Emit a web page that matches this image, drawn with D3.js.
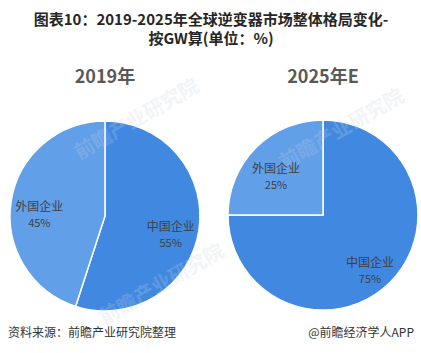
<!DOCTYPE html>
<html>
<head>
<meta charset="utf-8">
<script src="https://cdn.jsdelivr.net/npm/d3@7"></script>
<style>
body { margin: 0; background: #fff; }
text { font-family: "Microsoft YaHei", "Noto Sans CJK SC", sans-serif; }
</style>
</head>
<body>
<div id="chart"></div>
<script>
var width = 421;
var height = 353;

// data
var categories = ['中国企业', '外国企业'];
var years = ['2019年', '2025年E'];
var values2019 = [55, 45];
var values2025 = [75, 25];

var color = d3.scaleOrdinal()
    .domain(categories)
    .range(['#4189e0', '#629fe9']);

var svg = d3.select("#chart")
    .append("svg")
    .attr("width", width)
    .attr("height", height);

// title, two lines
svg.append("text")
    .attr("x", 211).attr("y", 25)
    .attr("text-anchor", "middle")
    .style("font-size", "15px").style("font-weight", "bold").attr("fill", "#262626")
    .text("图表10：2019-2025年全球逆变器市场整体格局变化-");
svg.append("text")
    .attr("x", 211).attr("y", 44)
    .attr("text-anchor", "middle")
    .style("font-size", "15px").style("font-weight", "bold").attr("fill", "#262626")
    .text("按GW算(单位：%)");

var radius = 95;
var pie = d3.pie().sort(null).value(function(d) { return d.value; });
var arc = d3.arc().innerRadius(0).outerRadius(radius);
var labelArc = d3.arc().innerRadius(radius * 0.7).outerRadius(radius * 0.7);

var pies = [
    {year: years[0], values: values2019, cx: 105, cy: 216},
    {year: years[1], values: values2025, cx: 323, cy: 215}
];

pies.forEach(function(p) {
    var data = categories.map(function(c, i) { return {label: c, value: p.values[i]}; });

    svg.append("text")
        .attr("x", p.cx).attr("y", 83)
        .attr("text-anchor", "middle")
        .style("font-size", "18px").style("font-weight", "bold").attr("fill", "#595959")
        .text(p.year);

    var g = svg.append("g")
        .attr("transform", "translate(" + p.cx + "," + p.cy + ")");

    var slices = g.selectAll("g.slice")
        .data(pie(data))
        .enter().append("g")
        .attr("class", "slice");

    slices.append("path")
        .attr("fill", function(d) { return color(d.data.label); })
        .attr("stroke", "#fff")
        .attr("stroke-width", 1.5)
        .attr("d", arc);
});

// faint watermarks, lying over the pies
[[140, 125], [165, 290], [345, 135]].forEach(function(w) {
    svg.append("text")
        .attr("transform", "translate(" + w[0] + "," + w[1] + ") rotate(-30)")
        .attr("text-anchor", "middle")
        .style("font-size", "20px").style("font-weight", "bold")
        .attr("fill", "#c8d2dc").attr("opacity", 0.22)
        .text("前瞻产业研究院");
});

// slice labels on top
pies.forEach(function(p) {
    var data = categories.map(function(c, i) { return {label: c, value: p.values[i]}; });
    var lbl = svg.append("g")
        .attr("transform", "translate(" + p.cx + "," + p.cy + ")")
        .selectAll("text")
        .data(pie(data))
        .enter().append("text")
        .attr("transform", function(d) { return "translate(" + labelArc.centroid(d) + ")"; })
        .attr("text-anchor", "middle")
        .style("font-size", "12px")
        .attr("fill", "#404040");
    lbl.append("tspan").attr("x", 0).attr("y", 5).text(function(d) { return d.data.label; });
    lbl.append("tspan").attr("x", 0).attr("y", 21).style("font-size", "11px")
        .text(function(d) { return d.data.value + "%"; });
});

// footer
svg.append("text")
    .attr("x", 8).attr("y", 337)
    .style("font-size", "12px").attr("fill", "#333")
    .text("资料来源：前瞻产业研究院整理");
svg.append("text")
    .attr("x", 414).attr("y", 337)
    .attr("text-anchor", "end")
    .style("font-size", "12px").attr("fill", "#333")
    .text("@前瞻经济学人APP");
</script>
</body>
</html>
